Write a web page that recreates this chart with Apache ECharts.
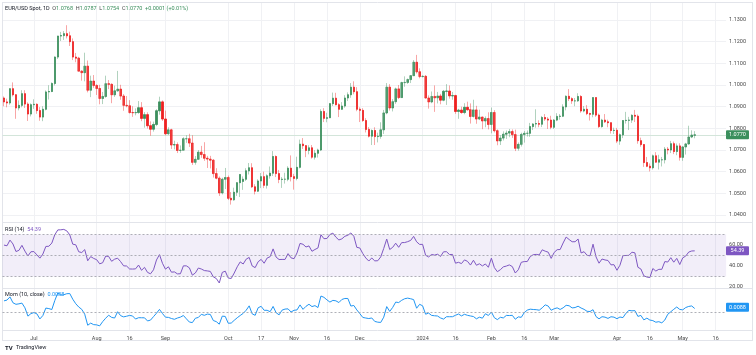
<!DOCTYPE html>
<html><head><meta charset="utf-8">
<script src="https://cdn.jsdelivr.net/npm/echarts@6/dist/echarts.min.js"></script>
<style>html,body{margin:0;padding:0;background:#fff}#c{width:756px;height:355px}</style>
</head><body><div id="c"></div>
<script>
// ---- data ----
const startDate = '2023-06-19';
const futureBars = 10;
const open = [
1.0940,1.0922,1.0917,1.0983,1.0955,1.0894,1.0906,1.0960,1.0912,1.0866,
1.0909,1.0911,1.0882,1.0852,1.0888,1.0968,1.0970,1.1007,1.1129,1.1226,1.1228,1.1237,1.1227,1.1200,1.1129,1.1124,1.1064,1.1057,1.1087,1.0976,1.1018,
1.0998,1.0984,1.0938,1.0947,1.1006,1.1003,1.0955,1.0973,1.0981,1.0949,1.0906,1.0904,1.0873,1.0872,1.0873,1.0895,1.0846,1.0863,1.0812,1.0796,1.0818,1.0881,1.0922,
1.0843,1.0775,1.0793,1.0723,1.0725,1.0698,1.0699,1.0752,1.0752,1.0732,1.0643,1.0657,1.0690,1.0679,1.0662,1.0658,1.0653,1.0591,1.0570,1.0502,1.0565,
1.0573,1.0477,1.0470,1.0505,1.0549,1.0555,1.0565,1.0604,1.0618,1.0530,1.0510,1.0557,1.0577,1.0537,1.0581,1.0593,1.0670,1.0591,1.0564,1.0565,1.0565,1.0616,
1.0577,1.0569,1.0620,1.0727,1.0720,1.0698,1.0710,1.0667,1.0685,1.0700,1.0878,1.0846,1.0849,1.0914,1.0939,1.0909,1.0888,1.0903,1.0940,1.0955,1.0990,1.0969,
1.0888,1.0883,1.0836,1.0795,1.0764,1.0790,1.0762,1.0763,1.0793,1.0871,1.0990,1.0894,1.0923,1.0982,1.0942,1.1011,1.1012,1.1025,1.1043,1.1105,1.1061,
1.1039,1.1040,1.0940,1.0922,1.0947,1.0941,1.0949,1.0930,1.0971,1.0972,1.0950,1.0951,1.0878,1.0884,1.0873,1.0897,1.0886,1.0855,1.0885,1.0843,1.0852,1.0834,1.0845,
1.0818,1.0873,1.0789,1.0742,1.0755,1.0773,1.0778,1.0785,1.0771,1.0708,1.0726,1.0772,1.0777,1.0777,1.0808,1.0820,1.0822,1.0819,1.0850,1.0843,1.0838,
1.0805,1.0838,1.0855,1.0856,1.0899,1.0948,1.0937,1.0927,1.0927,1.0947,1.0880,1.0888,1.0868,1.0865,1.0942,1.0861,1.0808,1.0838,1.0830,1.0826,1.0790,
1.0791,1.0741,1.0770,1.0836,1.0837,1.0838,1.0860,1.0856,1.0743,1.0725,1.0642,1.0625,1.0618,1.0673,1.0644,1.0655,1.0655,1.0704,1.0700,1.0729,1.0693,1.0719,
1.0666,1.0714,1.0728,1.0760,1.0768
];
const high = [
1.0947,1.0937,1.0985,1.1012,1.0958,1.0929,1.0976,1.0976,1.0920,1.0915,
1.0934,1.0915,1.0898,1.0902,1.0975,1.0999,1.1012,1.1132,1.1227,1.1245,1.1249,1.1276,1.1246,1.1215,1.1148,1.1130,1.1068,1.1149,1.1113,1.1043,1.1046,
1.1003,1.1001,1.0968,1.1043,1.1023,1.1008,1.0997,1.1065,1.1001,1.0958,1.0949,1.0930,1.0902,1.0892,1.0926,1.0921,1.0875,1.0874,1.0832,1.0831,1.0888,1.0946,1.0929,
1.0882,1.0805,1.0798,1.0743,1.0735,1.0721,1.0759,1.0768,1.0775,1.0768,1.0672,1.0700,1.0719,1.0736,1.0673,1.0673,1.0658,1.0616,1.0578,1.0572,1.0617,
1.0582,1.0506,1.0526,1.0552,1.0586,1.0578,1.0616,1.0640,1.0639,1.0542,1.0565,1.0594,1.0600,1.0588,1.0624,1.0695,1.0675,1.0608,1.0575,1.0595,1.0625,1.0675,
1.0590,1.0669,1.0748,1.0755,1.0723,1.0722,1.0723,1.0700,1.0706,1.0888,1.0893,1.0872,1.0917,1.0965,1.0964,1.0916,1.0921,1.0953,1.0966,1.1009,1.1017,1.0990,
1.0897,1.0893,1.0847,1.0806,1.0795,1.0805,1.0780,1.0828,1.0885,1.1009,1.1004,1.0935,1.0988,1.1000,1.1015,1.1040,1.1030,1.1046,1.1115,1.1139,1.1077,
1.1045,1.1046,1.0952,1.0970,1.0998,1.0968,1.0959,1.0977,1.1004,1.0998,1.0968,1.0955,1.0890,1.0900,1.0916,1.0923,1.0915,1.0932,1.0904,1.0886,1.0854,1.0855,1.0874,
1.0896,1.0884,1.0795,1.0768,1.0786,1.0790,1.0797,1.0795,1.0794,1.0735,1.0780,1.0788,1.0790,1.0825,1.0824,1.0888,1.0837,1.0857,1.0866,1.0852,1.0858,
1.0843,1.0870,1.0866,1.0911,1.0952,1.0981,1.0943,1.0940,1.0962,1.0953,1.0903,1.0907,1.0872,1.0943,1.0942,1.0868,1.0844,1.0866,1.0840,1.0827,1.0803,
1.0802,1.0776,1.0838,1.0876,1.0853,1.0865,1.0885,1.0864,1.0757,1.0728,1.0668,1.0638,1.0679,1.0690,1.0678,1.0668,1.0714,1.0714,1.0742,1.0739,1.0730,1.0731,
1.0718,1.0733,1.0812,1.0791,1.0787
];
const low = [
1.0902,1.0897,1.0909,1.0947,1.0844,1.0883,1.0897,1.0894,1.0834,1.0855,
1.0890,1.0867,1.0835,1.0833,1.0883,1.0933,1.0967,1.0998,1.1120,1.1203,1.1208,1.1215,1.1180,1.1115,1.1105,1.1063,1.1020,1.1017,1.0966,1.0944,1.0987,
1.0954,1.0911,1.0912,1.0941,1.0981,1.0916,1.0945,1.0969,1.0932,1.0881,1.0897,1.0868,1.0853,1.0860,1.0867,1.0833,1.0803,1.0799,1.0766,1.0785,1.0810,1.0863,1.0834,
1.0768,1.0770,1.0705,1.0703,1.0686,1.0687,1.0699,1.0733,1.0714,1.0631,1.0632,1.0655,1.0664,1.0650,1.0617,1.0615,1.0573,1.0565,1.0488,1.0495,1.0520,
1.0469,1.0448,1.0466,1.0488,1.0483,1.0516,1.0557,1.0587,1.0525,1.0495,1.0506,1.0524,1.0524,1.0522,1.0568,1.0580,1.0575,1.0547,1.0525,1.0545,1.0556,1.0555,
1.0517,1.0560,1.0615,1.0705,1.0667,1.0680,1.0660,1.0656,1.0665,1.0695,1.0829,1.0828,1.0847,1.0903,1.0906,1.0852,1.0885,1.0895,1.0926,1.0941,1.0957,1.0879,
1.0829,1.0830,1.0781,1.0758,1.0723,1.0723,1.0735,1.0752,1.0774,1.0865,1.0882,1.0878,1.0913,1.0935,1.0940,1.0992,1.1005,1.1009,1.1041,1.1053,1.1031,
1.1035,1.0937,1.0891,1.0916,1.0876,1.0915,1.0911,1.0925,1.0908,1.0937,1.0932,1.0867,1.0844,1.0867,1.0865,1.0881,1.0822,1.0850,1.0821,1.0838,1.0796,1.0805,1.0795,
1.0777,1.0781,1.0722,1.0723,1.0744,1.0751,1.0759,1.0756,1.0695,1.0697,1.0716,1.0734,1.0762,1.0761,1.0792,1.0803,1.0805,1.0806,1.0834,1.0797,1.0796,
1.0797,1.0833,1.0840,1.0852,1.0883,1.0926,1.0913,1.0902,1.0922,1.0872,1.0874,1.0861,1.0836,1.0851,1.0853,1.0802,1.0803,1.0825,1.0805,1.0776,1.0774,
1.0732,1.0724,1.0755,1.0822,1.0792,1.0825,1.0829,1.0729,1.0715,1.0622,1.0621,1.0601,1.0610,1.0641,1.0610,1.0624,1.0638,1.0680,1.0686,1.0681,1.0676,1.0651,
1.0650,1.0679,1.0724,1.0755,1.0754
];
const close = [
1.0922,1.0917,1.0983,1.0955,1.0894,1.0906,1.0960,1.0912,1.0866,1.0909,
1.0911,1.0882,1.0852,1.0888,1.0968,1.0970,1.1007,1.1129,1.1226,1.1228,1.1237,1.1227,1.1200,1.1129,1.1124,1.1064,1.1057,1.1087,1.0976,1.1018,1.0998,
1.0984,1.0938,1.0947,1.1006,1.1003,1.0955,1.0973,1.0981,1.0949,1.0906,1.0904,1.0873,1.0872,1.0873,1.0895,1.0846,1.0863,1.0812,1.0796,1.0818,1.0881,1.0922,1.0843,
1.0775,1.0793,1.0723,1.0725,1.0698,1.0699,1.0752,1.0752,1.0732,1.0643,1.0657,1.0690,1.0679,1.0662,1.0658,1.0653,1.0591,1.0570,1.0502,1.0565,1.0573,
1.0477,1.0470,1.0505,1.0549,1.0587,1.0565,1.0604,1.0618,1.0530,1.0510,1.0557,1.0577,1.0537,1.0581,1.0593,1.0670,1.0591,1.0564,1.0565,1.0565,1.0616,1.0577,
1.0569,1.0620,1.0727,1.0720,1.0698,1.0710,1.0667,1.0685,1.0700,1.0878,1.0846,1.0849,1.0914,1.0939,1.0909,1.0888,1.0903,1.0940,1.0955,1.0990,1.0969,1.0888,
1.0883,1.0836,1.0795,1.0764,1.0790,1.0762,1.0763,1.0793,1.0871,1.0990,1.0894,1.0923,1.0982,1.0942,1.1011,1.1012,1.1025,1.1043,1.1105,1.1061,1.1039,
1.1040,1.0940,1.0922,1.0947,1.0941,1.0949,1.0930,1.0971,1.0972,1.0950,1.0951,1.0878,1.0884,1.0873,1.0897,1.0886,1.0855,1.0885,1.0843,1.0852,1.0834,1.0845,1.0818,
1.0873,1.0789,1.0742,1.0755,1.0773,1.0778,1.0785,1.0771,1.0708,1.0726,1.0772,1.0777,1.0777,1.0808,1.0820,1.0822,1.0819,1.0850,1.0843,1.0838,1.0805,
1.0838,1.0855,1.0856,1.0899,1.0948,1.0937,1.0927,1.0927,1.0947,1.0880,1.0888,1.0868,1.0865,1.0942,1.0861,1.0808,1.0838,1.0830,1.0826,1.0790,1.0791,
1.0741,1.0770,1.0836,1.0837,1.0838,1.0860,1.0856,1.0743,1.0725,1.0642,1.0625,1.0618,1.0673,1.0644,1.0655,1.0655,1.0704,1.0700,1.0729,1.0693,1.0719,1.0666,
1.0714,1.0728,1.0760,1.0769,1.0770
];
// closes before the first visible bar (indicator warm-up)
const warmupClose = [1.0975,1.0995,1.1072,1.1009,1.1019,1.1005,1.0961,1.0981,1.0913,1.0850,1.0872,1.0862,1.0843,1.0771,1.0805,1.0814,1.0771,1.0752,1.0725,1.0723,1.0706,1.0736,1.0689,1.0763,1.0708,1.0712,1.0692,1.0698,1.0781,1.0749,1.0752,1.0792,1.0833,1.0944,1.0940];
const tickLabels = [
['2023-07-03','Jul'],['2023-08-01','Aug'],['2023-08-16','16'],['2023-09-01','Sep'],['2023-10-02','Oct'],['2023-10-17','17'],
['2023-11-01','Nov'],['2023-11-16','16'],['2023-12-01','Dec'],['2024-01-01','2024'],['2024-01-16','16'],['2024-02-01','Feb'],
['2024-02-16','16'],['2024-03-01','Mar'],['2024-04-01','Apr'],['2024-04-16','16'],['2024-05-01','May'],['2024-05-16','16']
];
const rsiLevels = [70, 50, 30];
const rsiLabelValues = [20, 40, 60];
const lastPrice = 1.0770, rsiLast = 54.39, momLast = 0.0088;
const titleParts = {name:'EUR/USD Spot, 1D', o:'1.0768', h:'1.0787', l:'1.0754', c:'1.0770', chg:'+0.0001 (+0.01%)'};

// ---- derived ----
const N = close.length;
const dates = [];
{
  let d = new Date(startDate + 'T00:00:00Z');
  while (dates.length < N + futureBars) {
    const wd = d.getUTCDay();
    if (wd !== 0 && wd !== 6) dates.push(d.toISOString().slice(0,10));
    d = new Date(d.getTime() + 86400000);
  }
}
const labelMap = {}; tickLabels.forEach(t => labelMap[t[0]] = t[1]);
const wickData = close.map((c,i) => [open[i], c, low[i], high[i]]);
const bodyData = close.map((c,i) => [open[i], c, Math.min(open[i],c), Math.max(open[i],c)]);
const allClose = warmupClose.concat(close);
const W = warmupClose.length;
const rsiAll = []; let ag = 0, al = 0;
for (let i = 1; i < allClose.length; i++) {
  const ch = allClose[i] - allClose[i-1];
  const g = Math.max(ch, 0), l = Math.max(-ch, 0);
  if (i <= 14) { ag += g/14; al += l/14; if (i < 14) { rsiAll[i] = null; continue; } }
  else { ag = (ag*13 + g)/14; al = (al*13 + l)/14; }
  rsiAll[i] = al === 0 ? 100 : 100 - 100/(1 + ag/al);
}
const rsi = close.map((_, j) => +rsiAll[j+W].toFixed(2));
const mom = close.map((_, j) => +(allClose[j+W] - allClose[j+W-10]).toFixed(4));

// ---- chart ----
const FONT = 'Roboto, sans-serif';
const GL = 2.5, GW = 723.6;
const step = GW / dates.length;
const chart = echarts.init(document.getElementById('c'), null, {renderer: 'canvas'});
const hiddenX = gi => ({type:'category', gridIndex: gi, data: dates, show: false, boundaryGap: true});
const labelFilter = (idx, val) => labelMap[val] !== undefined;
const UP = '#3b8f5d', DN = '#ee2020';
chart.setOption({
  animation: false,
  backgroundColor: '#ffffff',
  grid: [
    {left: GL, width: GW, top: 20, height: 195, outerBoundsMode: 'none'},
    {left: GL, width: GW, top: 224, height: 64, outerBoundsMode: 'none'},
    {left: GL, width: GW, top: 289, height: 41, outerBoundsMode: 'none'},
    {left: GL + step/2, width: GW - step, top: 2, height: 328.5, outerBoundsMode: 'none'}
  ],
  xAxis: [hiddenX(0), hiddenX(1), hiddenX(2), {
    type: 'category', gridIndex: 3, data: dates, boundaryGap: false,
    axisLine: {show: false}, axisTick: {show: false},
    axisLabel: {interval: labelFilter, formatter: v => labelMap[v] || '', fontSize: 5.5, color: '#4a4a4a', margin: 5, fontFamily: FONT},
    splitLine: {show: true, interval: labelFilter, lineStyle: {color: '#f0f1f4', width: 1}}
  }],
  yAxis: [
    {type: 'value', gridIndex: 0, position: 'right', min: 1.04, max: 1.13, interval: 0.01,
     axisLine: {show: false}, axisTick: {show: false},
     axisLabel: {formatter: v => v.toFixed(4), fontSize: 5.5, color: '#4a4a4a', margin: 3, fontFamily: FONT},
     splitLine: {lineStyle: {color: '#f0f1f4'}}},
    {type: 'value', gridIndex: 1, position: 'right', min: 19, max: 80,
     axisLine: {show: false}, axisTick: {show: false}, splitLine: {show: false},
     axisLabel: {customValues: rsiLabelValues, formatter: v => v.toFixed(2), fontSize: 5.5, color: '#4a4a4a', margin: 3, fontFamily: FONT}},
    {type: 'value', gridIndex: 2, position: 'right', min: -0.034, max: 0.0434,
     axisLine: {show: false}, axisTick: {show: false}, splitLine: {show: false}, axisLabel: {show: false}},
    {type: 'value', gridIndex: 3, show: false}
  ],
  series: [
    {type: 'candlestick', xAxisIndex: 0, yAxisIndex: 0, data: wickData, barWidth: 2,
     itemStyle: {color: 'rgba(59,143,93,0.4)', color0: 'rgba(238,32,32,0.4)', borderColor: 'rgba(59,143,93,0.4)', borderColor0: 'rgba(238,32,32,0.4)', borderWidth: 1},
     silent: true, z: 3},
    {type: 'candlestick', xAxisIndex: 0, yAxisIndex: 0, data: bodyData, barWidth: 1.6,
     itemStyle: {color: UP, color0: DN, borderColor: UP, borderColor0: DN, borderWidth: 0.6},
     silent: true, z: 4},
    {type: 'line', xAxisIndex: 1, yAxisIndex: 1, data: rsi, showSymbol: false, silent: true,
     lineStyle: {color: '#7e57c2', width: 1}, z: 3,
     markArea: {silent: true, itemStyle: {color: 'rgba(126,87,194,0.1)'}, data: [[{yAxis: 30}, {yAxis: 70}]]},
     markLine: {silent: true, symbol: 'none', label: {show: false}, lineStyle: {color: '#9a9ca5', width: 0.8, type: [2, 2]}, data: rsiLevels.map(v => ({yAxis: v}))}},
    {type: 'line', xAxisIndex: 2, yAxisIndex: 2, data: mom, showSymbol: false, silent: true,
     lineStyle: {color: '#2196f3', width: 1}, z: 3,
     markLine: {silent: true, symbol: 'none', label: {show: false}, lineStyle: {color: '#9a9ca5', width: 0.8, type: [2, 2]}, data: [{yAxis: 0}]}}
  ]
});

// last price line, tags & text
const py = chart.convertToPixel({yAxisIndex: 0}, lastPrice);
const ry = chart.convertToPixel({yAxisIndex: 1}, rsiLast);
const my = chart.convertToPixel({yAxisIndex: 2}, momLast);
const tag = (y, txt, col) => ({type: 'group', children: [
  {type: 'rect', shape: {x: 726, y: y - 4.5, width: 23, height: 9, r: 1}, style: {fill: col}},
  {type: 'text', x: 737.5, y: y, style: {text: txt, fill: '#fff', font: '5.5px ' + FONT, align: 'center', verticalAlign: 'middle'}}
]});
const line = (x1, y1, x2, y2, c) => ({type: 'line', shape: {x1, y1, x2, y2}, style: {stroke: c || '#e2e4ea', lineWidth: 1}, silent: true});
chart.setOption({graphic: [
  line(2, 222.5, 753, 222.5), line(2, 288.5, 753, 288.5), line(2, 330.5, 753, 330.5),
  line(2.5, 2, 2.5, 341), line(752.5, 2, 752.5, 341), line(2, 2.5, 753, 2.5), line(2, 340.5, 753, 340.5),
  Object.assign(line(GL, Math.round(py) + 0.5, GL + GW, Math.round(py) + 0.5, '#d3e5da'), {z: 1}),
  tag(py, lastPrice.toFixed(4), UP),
  tag(ry, rsiLast.toFixed(2), '#7e57c2'),
  tag(my, momLast.toFixed(4), '#2196f3'),
  {type: 'text', x: 5, y: 9, style: {
    text: '{a|' + titleParts.name + '}  {b|O}{g|' + titleParts.o + '}  {b|H}{g|' + titleParts.h + '}  {b|L}{g|' + titleParts.l + '}  {b|C}{g|' + titleParts.c + '}  {g|' + titleParts.chg + '}',
    verticalAlign: 'middle', font: '5.5px ' + FONT,
    rich: {a: {fill: '#131722', fontSize: 5.5, fontFamily: FONT}, b: {fill: '#4a4a4a', fontSize: 5.5, fontFamily: FONT}, g: {fill: UP, fontSize: 5.5, fontFamily: FONT}}}},
  {type: 'text', x: 5, y: 229.5, style: {
    text: '{a|RSI (14)}  {p|' + rsiLast.toFixed(2) + '}', verticalAlign: 'middle', font: '5.5px ' + FONT,
    rich: {a: {fill: '#131722', fontSize: 5.5, fontFamily: FONT}, p: {fill: '#7e57c2', fontSize: 5.5, fontFamily: FONT}}}},
  {type: 'text', x: 5, y: 294.5, style: {
    text: '{a|Mom (10, close)}  {p|' + momLast.toFixed(4) + '}', verticalAlign: 'middle', font: '5.5px ' + FONT,
    rich: {a: {fill: '#131722', fontSize: 5.5, fontFamily: FONT}, p: {fill: '#2196f3', fontSize: 5.5, fontFamily: FONT}}}},
  {type: 'text', x: 5, y: 348, style: {
    text: '{l|TV} {a|TradingView}', verticalAlign: 'middle',
    rich: {l: {fill: '#131722', fontSize: 6, fontWeight: 'bold', fontFamily: FONT}, a: {fill: '#131722', fontSize: 5.5, fontFamily: FONT}}}}
]});
</script></body></html>
